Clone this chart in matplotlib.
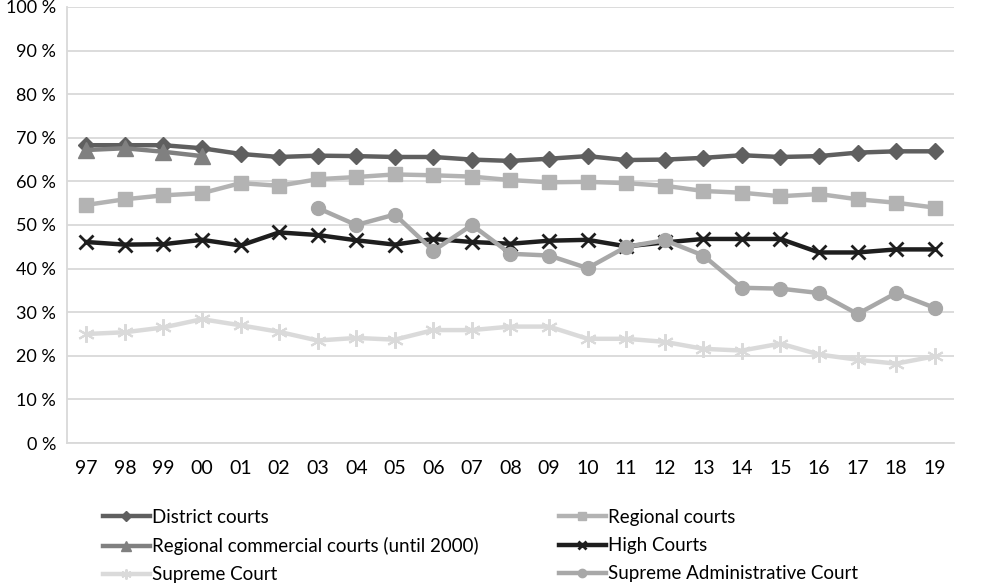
import numpy as np
import matplotlib
matplotlib.use("Agg")
import matplotlib.pyplot as plt

plt.rcParams['font.family'] = ['Lato', 'DejaVu Sans']

# data (share in %)
years = ['97', '98', '99', '00', '01', '02', '03', '04', '05', '06', '07', '08',
         '09', '10', '11', '12', '13', '14', '15', '16', '17', '18', '19']

district = [68.3, 68.3, 68.3, 67.6, 66.3, 65.6, 65.9, 65.8, 65.6, 65.6, 65.0, 64.7,
            65.2, 65.8, 64.9, 65.0, 65.4, 66.0, 65.6, 65.8, 66.6, 66.9, 66.9]
regional = [54.6, 55.9, 56.8, 57.3, 59.6, 59.0, 60.5, 61.0, 61.6, 61.4, 61.1, 60.3,
            59.8, 59.9, 59.6, 59.0, 57.8, 57.4, 56.6, 57.1, 55.9, 55.1, 54.0]
commercial = [67.2, 67.6, 66.8, 65.8]
high = [46.1, 45.5, 45.6, 46.6, 45.3, 48.3, 47.7, 46.5, 45.5, 46.8, 46.1, 45.7,
        46.4, 46.6, 45.1, 46.0, 46.8, 46.8, 46.8, 43.7, 43.7, 44.4, 44.4]
supreme = [25.0, 25.4, 26.5, 28.4, 27.0, 25.5, 23.5, 24.1, 23.7, 25.9, 25.9, 26.7,
           26.7, 23.9, 23.9, 23.2, 21.6, 21.2, 22.8, 20.3, 19.1, 18.2, 19.9]
sup_admin = [53.9, 50.0, 52.4, 44.1, 50.0, 43.4, 43.0, 40.1, 45.0, 46.5, 43.0,
             35.6, 35.4, 34.4, 29.6, 34.4, 31.0]

x = np.arange(len(years))

fig = plt.figure(figsize=(9.82, 5.85), dpi=100)
ax = fig.add_axes([67/982, 1 - 443/585, (954-67)/982, (443-7)/585])

lw = 3.2
h_dist, = ax.plot(x, district, color='#5f5f5f', lw=lw, marker='D', ms=8, label='District courts')
h_reg, = ax.plot(x, regional, color='#b3b3b3', lw=lw, marker='s', ms=10, label='Regional courts')
h_com, = ax.plot(x[:len(commercial)], commercial, color='#808080', lw=lw, marker='^', ms=11,
                 label='Regional commercial courts (until 2000)')
h_high, = ax.plot(x, high, color='#1e1e1e', lw=lw, marker='x', ms=10, mew=2, label='High Courts')
h_sup, = ax.plot(x, supreme, color='#dadada', lw=lw, marker=(6, 2, 0), ms=12, mew=1.5,
                 label='Supreme Court')
h_sa, = ax.plot(x[6:], sup_admin, color='#a8a8a8', lw=lw, marker='o', ms=10,
                label='Supreme Administrative Court')

ax.set_xlim(-0.5, len(years) - 0.5)
ax.set_ylim(0, 100)
ax.set_yticks(np.arange(0, 101, 10))
ax.set_yticklabels(['%d %%' % v for v in range(0, 101, 10)])
ax.set_xticks(x)
ax.set_xticklabels(years)
ax.tick_params(axis='both', length=0, labelsize=13, colors='#000000')
ax.tick_params(axis='x', labelsize=14, pad=12)
ax.tick_params(axis='y', pad=8)
ax.grid(axis='y', color='#d9d9d9', lw=1.3)
ax.set_axisbelow(True)
for s in ['top', 'right']:
    ax.spines[s].set_visible(False)
for s in ['left', 'bottom']:
    ax.spines[s].set_color('#d9d9d9')
    ax.spines[s].set_linewidth(1.3)

handles = [h_dist, h_com, h_sup, h_reg, h_high, h_sa]
fig.legend(handles=handles, ncol=2, loc='upper left', bbox_to_anchor=(86/982, 1 - 492/585),
           frameon=False, fontsize=13.5, handlelength=2.5, handletextpad=0.1,
           columnspacing=4.3, labelspacing=0.6, markerscale=0.6)

fig.savefig('out.png', dpi=100)
